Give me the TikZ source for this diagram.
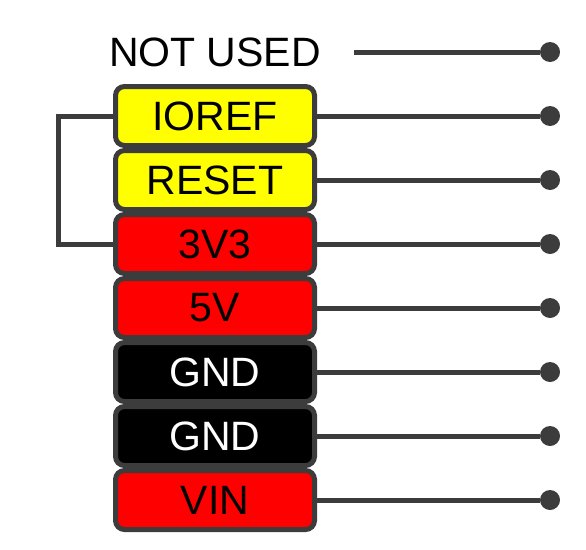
\documentclass[tikz,border=0pt]{standalone}
\usepackage{fontspec}
\setmainfont{Liberation Sans}
\usetikzlibrary{positioning}
\definecolor{wire}{RGB}{60,60,60}
\definecolor{pinY}{RGB}{255,255,0}
\definecolor{pinR}{RGB}{255,0,0}
\tikzset{
  pinbox/.style={draw=wire,line width=5pt,rounded corners=9pt,inner sep=0pt,
    minimum width=199pt,minimum height=59pt,font=\fontsize{41}{41}\selectfont},
  lbl/.style={inner sep=0pt,font=\fontsize{41}{41}\selectfont},
  wireln/.style={draw=wire,line width=5pt},
  dot/.style={circle,fill=wire,inner sep=0pt,minimum size=20pt},
}
\begin{document}
\begin{tikzpicture}[x=1pt,y=-1pt]
\useasboundingbox (0,0) rectangle (586,549);
% unused pin on top
\node[lbl] (nu) at (215,52) {NOT USED};
\coordinate[right=33pt of nu] (nuend);
\node[dot] (d0) at (550,52) {};
\draw[wireln] (nuend) -- (d0);
% header pins
\foreach \i/\lab/\fc/\tc in {1/IOREF/pinY/black,2/RESET/pinY/black,3/3V3/pinR/black,
  4/5V/pinR/black,5/GND/black/white,6/GND/black/white,7/VIN/pinR/black}{
  \pgfmathsetmacro\y{116+64*(\i-1)}
  \node[pinbox,fill=\fc,text=\tc] (b\i) at (215,\y) {\lab};
  \node[dot] (d\i) at (550,\y) {};
  \draw[wireln] (b\i.east) -- (d\i);
}
% IOREF tied to 3V3
\draw[wireln,line join=miter] (b1.west) -- ++(-55,0) |- (b3.west);
\end{tikzpicture}
\end{document}
